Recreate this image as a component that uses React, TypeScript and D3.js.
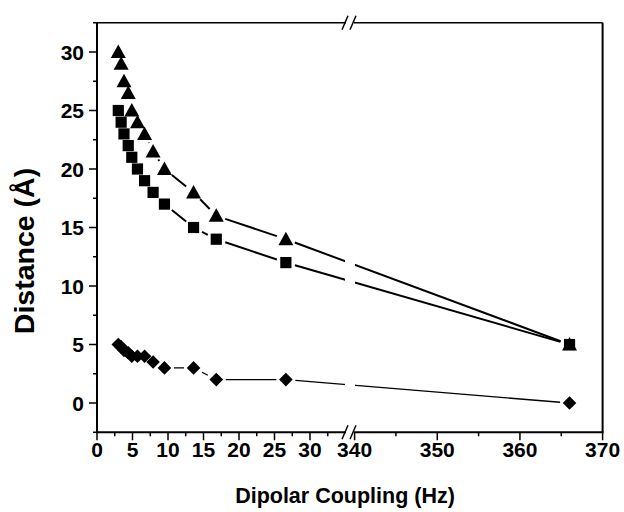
import React from "react";
import * as d3 from "d3";

// Data (x = dipolar coupling in Hz, shared by all series)
const couplings = [3.0, 3.4, 3.8, 4.4, 4.9, 5.7, 6.7, 7.9, 9.5, 13.6, 16.8, 26.6, 366];
const triangleDist = [30, 29, 27.5, 26.5, 25, 24, 23, 21.5, 20, 18, 16, 14, 5];
const squareDist = [25, 24, 23, 22, 21, 20, 19, 18, 17, 15, 14, 12, 5];
const diamondDist = [5, 4.8, 4.5, 4.3, 4, 4, 4, 3.5, 3, 3, 2, 2, 0];

const yTicks = [0, 5, 10, 15, 20, 25, 30];
const yMinor = [-2.5, 2.5, 7.5, 12.5, 17.5, 22.5, 27.5, 32.5];
const xTicksLeft = [0, 5, 10, 15, 20, 25, 30];
const xMinorLeft = [2.5, 7.5, 12.5, 17.5, 22.5, 27.5, 32.5];
const xTicksRight = [340, 350, 360, 370];
const xMinorRight = [345, 355, 365];

const W = 624;
const H = 512;
const FONT = "'Liberation Sans', Arial, sans-serif";

const xL = d3.scaleLinear().domain([0, 30]).range([97, 310]);
const xR = d3.scaleLinear().domain([340, 370]).range([354.6, 602.6]);
const y = d3.scaleLinear().domain([0, 30]).range([403, 52]);
const xPix = (v: number) => (v <= 36 ? xL(v) : xR(v));

const left = xL(0);
const right = xR(370);
const top = y(32.5);
const bottom = y(-2.5);
const breakA = 346;
const breakB = 354;

type Shape = "triangle" | "square" | "diamond";

function markerPath(shape: Shape, cx: number, cy: number) {
  if (shape === "triangle") {
    return `M${cx},${cy - 7.5} L${cx + 7.5},${cy + 6} L${cx - 7.5},${cy + 6} Z`;
  }
  if (shape === "square") {
    const s = 5.6;
    return `M${cx - s},${cy - s} H${cx + s} V${cy + s} H${cx - s} Z`;
  }
  const r = 6.8;
  return `M${cx},${cy - r} L${cx + r},${cy} L${cx},${cy + r} L${cx - r},${cy} Z`;
}

function gappedSegments(pts: [number, number][], gap: number) {
  const segs: string[] = [];
  for (let i = 0; i < pts.length - 1; i++) {
    const [x1, y1] = pts[i];
    const [x2, y2] = pts[i + 1];
    const dx = x2 - x1;
    const dy = y2 - y1;
    const len = Math.hypot(dx, dy);
    if (len <= 2 * gap + 0.5) continue;
    const ux = dx / len;
    const uy = dy / len;
    segs.push(
      `M${x1 + ux * gap},${y1 + uy * gap} L${x2 - ux * gap},${y2 - uy * gap}`
    );
  }
  return segs.join(" ");
}

const series: { values: number[]; shape: Shape; width: number }[] = [
  { values: triangleDist, shape: "triangle", width: 2 },
  { values: squareDist, shape: "square", width: 2 },
  { values: diamondDist, shape: "diamond", width: 1.4 },
];

export default function App() {
  return (
    <svg
      width={W}
      height={H}
      style={{ position: "absolute", left: 0, top: 0, background: "#fff" }}
      fontFamily={FONT}
    >
      <rect x={0} y={0} width={W} height={H} fill="#fff" />
      {/* data lines */}
      {series.map((s, i) => {
        const pts = couplings.map((c, j) => [xPix(c), y(s.values[j])] as [number, number]);
        return (
          <path
            key={"l" + i}
            d={gappedSegments(pts, 9.5)}
            fill="none"
            stroke="#000"
            strokeWidth={s.width}
          />
        );
      })}
      {/* break gap in lines */}
      <rect x={345} y={top + 2} width={10} height={bottom - top - 4} fill="#fff" />
      {/* markers */}
      {series.map((s, i) =>
        couplings.map((c, j) => (
          <path
            key={`m${i}-${j}`}
            d={markerPath(s.shape, xPix(c), y(s.values[j]))}
            fill="#000"
          />
        ))
      )}
      {/* frame */}
      <line x1={left} x2={left} y1={top} y2={bottom} stroke="#000" strokeWidth={2} />
      <line x1={right} x2={right} y1={top} y2={bottom} stroke="#000" strokeWidth={2} />
      <line x1={left} x2={breakA} y1={top} y2={top} stroke="#000" strokeWidth={1.5} />
      <line x1={breakB} x2={right} y1={top} y2={top} stroke="#000" strokeWidth={1.5} />
      <line x1={left - 1} x2={breakA} y1={bottom} y2={bottom} stroke="#000" strokeWidth={2} />
      <line x1={breakB} x2={right + 1} y1={bottom} y2={bottom} stroke="#000" strokeWidth={2} />
      {/* break marks */}
      {[top, bottom].map((yy, k) =>
        [breakA - 1, breakB - 1].map((bx, m) => (
          <line
            key={`b${k}-${m}`}
            x1={bx - 3}
            x2={bx + 3}
            y1={yy + 7}
            y2={yy - 7}
            stroke="#000"
            strokeWidth={1.5}
          />
        ))
      )}
      {/* y ticks */}
      {yTicks.map((t) => (
        <g key={"yt" + t}>
          <line x1={left - 8} x2={left} y1={y(t)} y2={y(t)} stroke="#000" strokeWidth={1.5} />
          <text
            x={left - 13}
            y={y(t)}
            dy="0.36em"
            textAnchor="end"
            fontSize={21}
            fontWeight="bold"
          >
            {t}
          </text>
        </g>
      ))}
      {yMinor.map((t) => (
        <line key={"ym" + t} x1={left - 4} x2={left} y1={y(t)} y2={y(t)} stroke="#000" strokeWidth={1.5} />
      ))}
      {/* x ticks */}
      {xTicksLeft.map((t) => (
        <g key={"xl" + t}>
          <line x1={xL(t)} x2={xL(t)} y1={bottom} y2={bottom + 8} stroke="#000" strokeWidth={1.5} />
          <text x={xL(t)} y={bottom + 25} textAnchor="middle" fontSize={21} fontWeight="bold">
            {t}
          </text>
        </g>
      ))}
      {xMinorLeft.map((t) => (
        <line key={"xlm" + t} x1={xL(t)} x2={xL(t)} y1={bottom} y2={bottom + 4} stroke="#000" strokeWidth={1.5} />
      ))}
      {xTicksRight.map((t) => (
        <g key={"xr" + t}>
          <line x1={xR(t)} x2={xR(t)} y1={bottom} y2={bottom + 8} stroke="#000" strokeWidth={1.5} />
          <text x={xR(t)} y={bottom + 25} textAnchor="middle" fontSize={21} fontWeight="bold">
            {t}
          </text>
        </g>
      ))}
      {xMinorRight.map((t) => (
        <line key={"xrm" + t} x1={xR(t)} x2={xR(t)} y1={bottom} y2={bottom + 4} stroke="#000" strokeWidth={1.5} />
      ))}
      {/* axis titles */}
      <text x={345} y={503} textAnchor="middle" fontSize={21.5} fontWeight="bold">
        Dipolar Coupling (Hz)
      </text>
      <text
        transform={`translate(34,251) rotate(-90)`}
        textAnchor="middle"
        fontSize={28.5}
        fontWeight="bold"
      >
        Distance (Å)
      </text>
    </svg>
  );
}
